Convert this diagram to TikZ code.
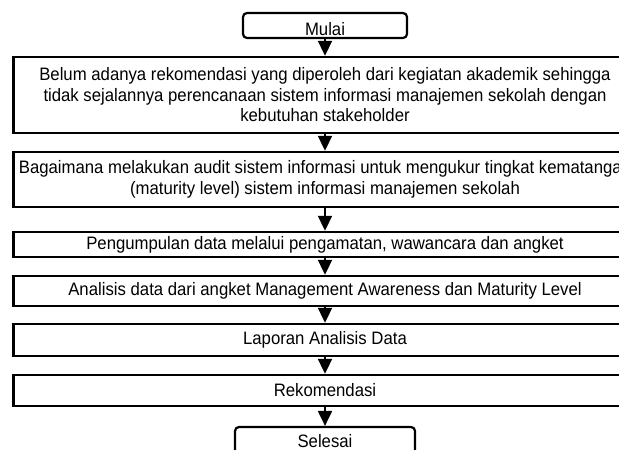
\documentclass[tikz,border=0pt]{standalone}
\usepackage{fontspec}
\setmainfont[FakeStretch=0.93]{Liberation Sans}
\usepackage{tikz}
\usetikzlibrary{arrows.meta}

\begin{document}
\begin{tikzpicture}[x=1pt, y=-1pt, >={Triangle[width=14pt, length=15pt]},
    every node/.style={font=\fontsize{18}{20.5}\selectfont, inner sep=2pt},
    terminal/.style={draw, line width=2.2pt, rounded corners=4pt, minimum width=164pt},
    stepbox/.style={draw, line width=2.4pt, minimum width=623pt, align=center},
    arr/.style={->, line width=2pt}]

      \useasboundingbox (0, 0) rectangle (619, 450);
      \clip (0, 0) rectangle (619, 450);

      \node[terminal, minimum height=25pt, text height=19pt, text depth=0pt] (mulai) at (325, 25.5) {Mulai};

      \node[stepbox, minimum height=76pt] (masalah) at (325, 95)
        {Belum adanya rekomendasi yang diperoleh dari kegiatan akademik sehingga\\
         tidak sejalannya perencanaan sistem informasi manajemen sekolah dengan\\
         kebutuhan stakeholder};
      \node[stepbox, minimum height=55pt] (rumusan) at (325, 179.5)
        {Bagaimana melakukan audit sistem informasi untuk mengukur tingkat kematangan\\
         (maturity level) sistem informasi manajemen sekolah};
      \node[stepbox, minimum height=25pt] (kumpul) at (325, 244.5)
        {Pengumpulan data melalui pengamatan, wawancara dan angket};
      \node[stepbox, minimum height=30pt] (analisis) at (325, 291)
        {Analisis data dari angket Management Awareness dan Maturity Level};
      \node[stepbox, minimum height=32pt] (laporan) at (325, 340) {Laporan Analisis Data};
      \node[stepbox, minimum height=31pt] (rekom) at (325, 390.5) {Rekomendasi};

      \node[terminal, minimum width=180pt, minimum height=30pt, text height=13pt, text depth=3pt] (selesai) at (325, 442) {Selesai};

      % alur
      \draw[arr] (mulai) -- (masalah);
      \draw[arr] (masalah) -- (rumusan);
      \draw[arr] (rumusan) -- (kumpul);
      \draw[arr] (kumpul) -- (analisis);
      \draw[arr] (analisis) -- (laporan);
      \draw[arr] (laporan) -- (rekom);
      \draw[arr] (rekom) -- (selesai);
    \end{tikzpicture}
\end{document}
